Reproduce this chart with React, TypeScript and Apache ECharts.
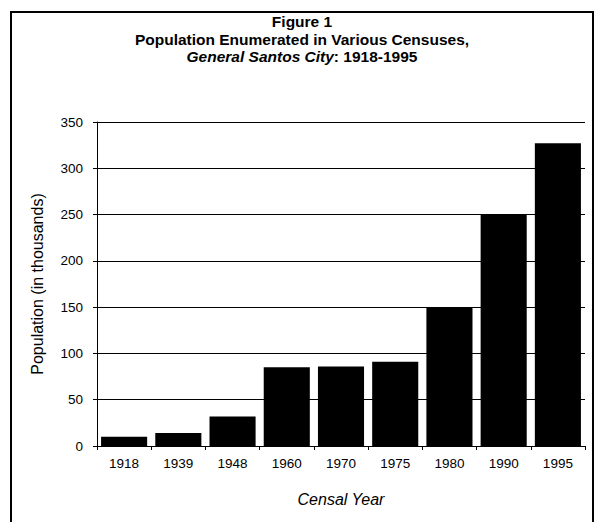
import React, { useEffect, useRef } from "react";
import * as echarts from "echarts";

const years = ["1918", "1939", "1948", "1960", "1970", "1975", "1980", "1990", "1995"];
const population = [10, 14, 32, 85, 86, 91, 149, 250, 327];
const yTicks = { min: 0, max: 350, interval: 50 };

export default function App() {
  const ref = useRef<HTMLDivElement>(null);
  useEffect(() => {
    document.body.style.margin = "0";
    const chart = echarts.init(ref.current!, null, { renderer: "svg" });
    const font = "Liberation Sans, Arial, Helvetica, sans-serif";
    chart.setOption({
      animation: false,
      backgroundColor: "#fff",
      textStyle: { fontFamily: font, color: "#000" },
      graphic: [
        {
          type: "rect",
          shape: { x: 11, y: 12, width: 582, height: 540 },
          style: { fill: "none", stroke: "#000", lineWidth: 2 },
          silent: true,
        },
        {
          type: "text",
          x: 302,
          y: 13,
          style: {
            text: "{b|Figure 1}\n{b|Population Enumerated in Various Censuses,}\n{bi|General Santos City}{b|: 1918-1995}",
            align: "center",
            rich: {
              b: { fontFamily: font, fontWeight: "bold", fontSize: 15.5, lineHeight: 17.5, fill: "#000" },
              bi: { fontFamily: font, fontWeight: "bold", fontStyle: "italic", fontSize: 15.5, lineHeight: 17.5, fill: "#000" },
            },
          },
        },
      ],
      grid: { left: 97, right: 12, top: 122, bottom: 76 },
      xAxis: {
        type: "category",
        data: years,
        name: "Censal Year",
        nameLocation: "middle",
        nameGap: 45,
        nameTextStyle: { fontStyle: "italic", fontSize: 16, color: "#000", fontFamily: font },
        axisLine: { lineStyle: { color: "#000", width: 1 } },
        axisTick: { show: true, length: 4, lineStyle: { color: "#000" } },
        axisLabel: { fontSize: 13.5, color: "#000", margin: 10, fontFamily: font },
      },
      yAxis: {
        type: "value",
        min: yTicks.min,
        max: yTicks.max,
        interval: yTicks.interval,
        name: "Population (in thousands)",
        nameLocation: "middle",
        nameGap: 52,
        nameTextStyle: { fontSize: 16, color: "#000", fontFamily: font },
        axisLine: { show: true, lineStyle: { color: "#000", width: 1 } },
        axisTick: { show: true, length: 4, lineStyle: { color: "#000" } },
        axisLabel: { fontSize: 13.5, color: "#000", margin: 14, fontFamily: font },
        splitLine: { show: true, lineStyle: { color: "#000", width: 1 } },
      },
      series: [
        {
          type: "bar",
          data: population,
          barCategoryGap: "15%",
          itemStyle: { color: "#000" },
        },
      ],
    });
    return () => chart.dispose();
  }, []);
  return <div ref={ref} style={{ width: 597, height: 522 }} />;
}
